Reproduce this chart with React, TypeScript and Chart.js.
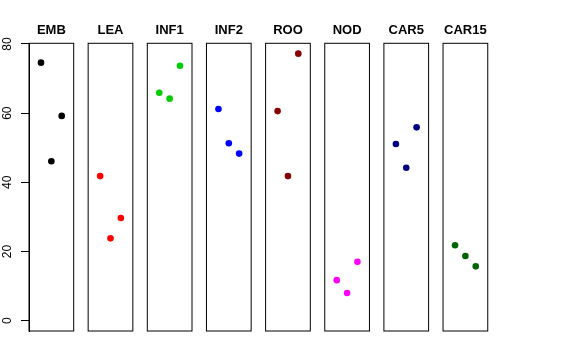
import React, { useEffect, useRef } from "react";
import { Chart, registerables } from "chart.js";

Chart.register(...registerables);

// ---- data ----
const categories = ["EMB", "LEA", "INF1", "INF2", "ROO", "NOD", "CAR5", "CAR15"];
const positions = [1, 2, 3];
const EMB = [74.6, 46.1, 59.2];
const LEA = [41.8, 23.8, 29.7];
const INF1 = [65.9, 64.2, 73.7];
const INF2 = [61.2, 51.3, 48.3];
const ROO = [60.6, 41.8, 77.2];
const NOD = [11.7, 8.0, 17.0];
const CAR5 = [51.1, 44.2, 55.9];
const CAR15 = [21.8, 18.7, 15.7];
const seriesValues = [EMB, LEA, INF1, INF2, ROO, NOD, CAR5, CAR15];
const colors = ["#000000", "#FF0000", "#00CD00", "#0000FF", "#8B0000", "#FF00FF", "#000080", "#006400"];
const yTicks = [0, 20, 40, 60, 80];

// ---- layout ----
const BOX_LEFT0 = 29;
const PITCH = 59.15;
const BOX_W = 44.7;
const BOX_TOP = 43.3;
const BOX_BOTTOM = 331;
const H = 360;
const FONT = "'Liberation Sans', Arial, Helvetica, sans-serif";

const boxPlugin = {
  id: "boxPlugin",
  afterDraw(chart: any) {
    const { ctx, chartArea } = chart;
    ctx.save();
    ctx.strokeStyle = "#000";
    ctx.lineWidth = 1;
    ctx.strokeRect(chartArea.left, chartArea.top, chartArea.right - chartArea.left, chartArea.bottom - chartArea.top);
    ctx.restore();
  },
};

function Panel({ index }: { index: number }) {
  const ref = useRef<HTMLCanvasElement | null>(null);
  const boxLeft = BOX_LEFT0 + index * PITCH;
  const first = index === 0;
  const divLeft = first ? 0 : Math.floor(boxLeft) - 7;
  const divW = first ? 82 : 60;
  const padLeft = first ? 0 : boxLeft - divLeft;
  const padRight = divW - (first ? BOX_LEFT0 : padLeft) - BOX_W;

  useEffect(() => {
    if (!ref.current) return;
    const chart = new Chart(ref.current, {
      type: "scatter",
      data: {
        datasets: [
          {
            label: categories[index],
            data: positions.map((p, j) => ({ x: p, y: seriesValues[index][j] })),
            pointRadius: 3.3,
            pointHoverRadius: 3.3,
            pointBackgroundColor: colors[index],
            pointBorderWidth: 0,
            showLine: false,
          },
        ],
      },
      options: {
        animation: false,
        responsive: true,
        maintainAspectRatio: false,
        layout: { padding: { left: padLeft, right: padRight, top: 0, bottom: H - BOX_BOTTOM } },
        plugins: {
          legend: { display: false },
          tooltip: { enabled: false },
          title: {
            display: true,
            text: categories[index],
            fullSize: false,
            color: "#000",
            font: { family: FONT, size: 13, weight: "bold" },
            padding: { top: 22.5, bottom: BOX_TOP - 22.5 - 15.6 },
          },
        },
        scales: {
          x: {
            type: "linear",
            min: -0.16,
            max: 4.16,
            display: false,
          },
          y: {
            type: "linear",
            min: -3,
            max: 80.2,
            display: first,
            afterFit: (s: any) => {
              if (first) s.width = BOX_LEFT0;
            },
            afterBuildTicks: (s: any) => {
              s.ticks = yTicks.map((v) => ({ value: v }));
            },
            grid: { drawOnChartArea: false, drawTicks: true, tickLength: 8, color: "#000" },
            border: { display: true, color: "#000" },
            ticks: {
              minRotation: 90,
              maxRotation: 90,
              crossAlign: "center",
              padding: 7,
              color: "#000",
              font: { family: FONT, size: 12 },
            },
          },
        },
      },
      plugins: [boxPlugin],
    });
    return () => chart.destroy();
  }, []);

  return (
    <div style={{ position: "absolute", left: divLeft, top: 0, width: divW, height: H }}>
      <canvas ref={ref} />
    </div>
  );
}

export default function App() {
  return (
    <div style={{ position: "absolute", left: 0, top: 0, width: 576, height: H, background: "#fff" }}>
      {categories.map((c, i) => (
        <Panel key={c} index={i} />
      ))}
    </div>
  );
}
